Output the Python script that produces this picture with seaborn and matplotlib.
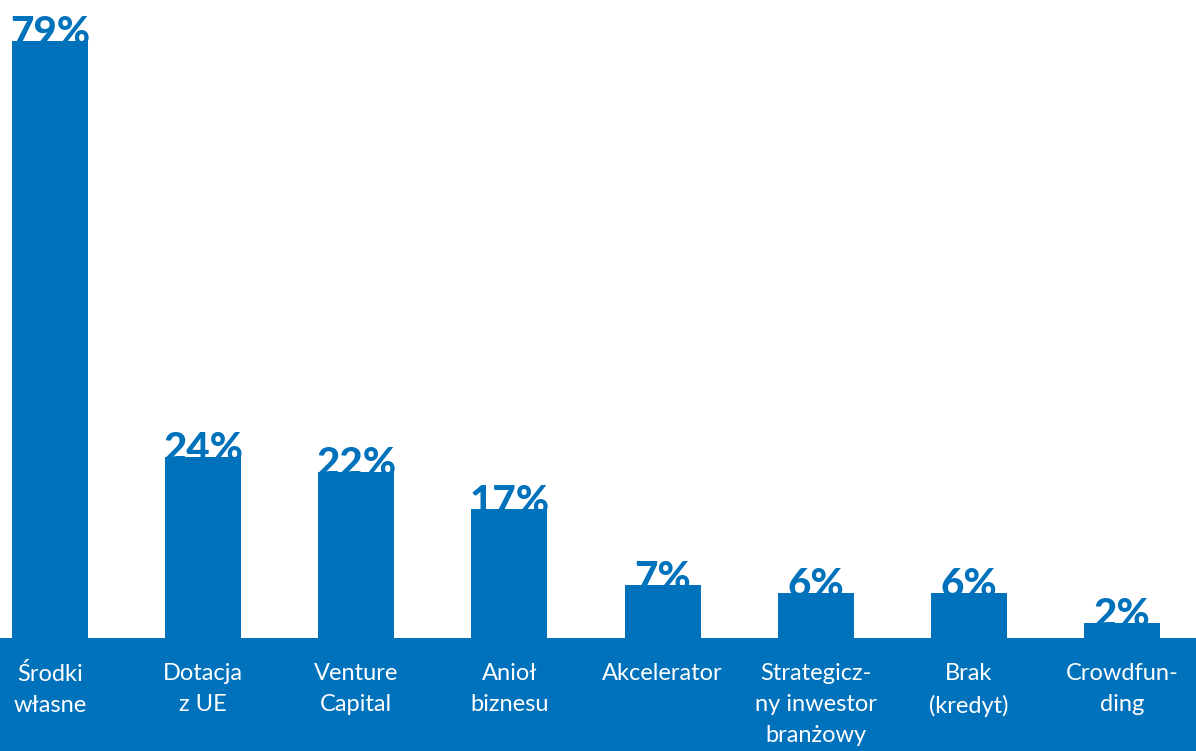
import matplotlib
matplotlib.use("Agg")
import matplotlib.pyplot as plt
import seaborn as sns
import pandas as pd

categories = ["Środki\nwłasne", "Dotacja\nz UE", "Venture\nCapital", "Anioł\nbiznesu",
              "Akcelerator", "Strategicz-\nny inwestor\nbranżowy", "Brak\n(kredyt)", "Crowdfun-\nding"]
values = [79, 24, 22, 17, 7, 6, 6, 2]
value_labels = ["79%", "24%", "22%", "17%", "7%", "6%", "6%", "2%"]

BLUE = "#0071BB"

sns.set_theme(style="white")
plt.rcParams['font.family'] = ['Lato', 'DejaVu Sans']

df = pd.DataFrame({"cat": categories, "val": values})

fig = plt.figure(figsize=(11.96, 7.51), dpi=100, facecolor=BLUE)
ax = fig.add_axes([0, 113 / 751, 1, 638 / 751])
ax.set_facecolor("white")

sns.barplot(data=df, x="cat", y="val", color=BLUE, saturation=1, width=0.496, ax=ax,
            zorder=3, linewidth=0, edgecolor=BLUE)

for i, (v, lab) in enumerate(zip(values, value_labels)):
    ax.text(i, v - 0.6, lab, ha="center", va="baseline", fontsize=29, fontweight="black",
            color=BLUE, zorder=2)

ax.set_xlim(-0.3266, 7.483)
ax.set_ylim(0, 84.4)
ax.set_xlabel("")
ax.set_ylabel("")
ax.set_yticks([])
ax.tick_params(axis="x", length=0, pad=18, colors="white", labelsize=17)
for t in ax.get_xticklabels():
    t.set_linespacing(1.58)
    t.set_va("top")
for s in ax.spines.values():
    s.set_visible(False)

fig.savefig("out.png", dpi=100, facecolor=BLUE)
